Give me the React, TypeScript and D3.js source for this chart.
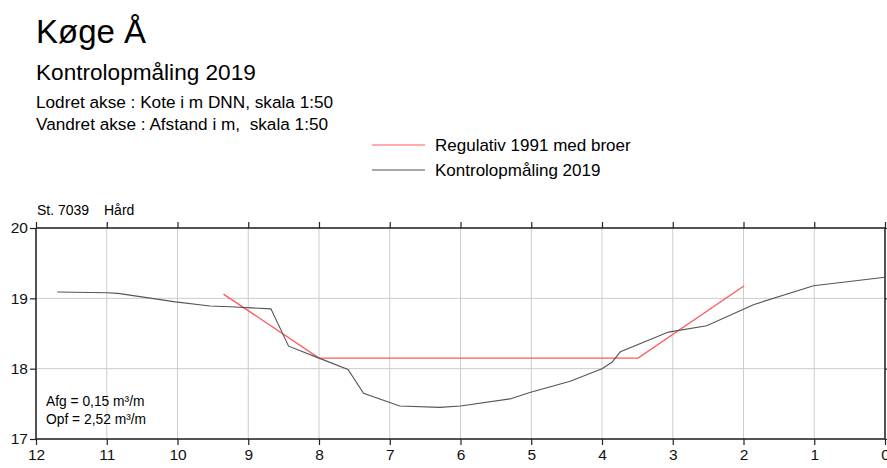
import { useEffect, useRef } from 'react';
import * as d3 from 'd3';

// Kontrolopmåling 2019 (afstand i m, kote i m DNN)
const surveyDist = [11.7, 11.0, 10.84, 10.03, 9.54, 9.26, 8.68, 8.43, 8.0, 7.59, 7.37, 6.86, 6.29, 6.0, 5.3, 5.02, 4.45, 4.0, 3.86, 3.74, 3.06, 2.52, 1.86, 1.01, 0.0];
const surveyKote = [19.09, 19.08, 19.07, 18.95, 18.89, 18.88, 18.85, 18.32, 18.15, 17.99, 17.65, 17.47, 17.45, 17.47, 17.57, 17.66, 17.82, 18.0, 18.09, 18.24, 18.52, 18.61, 18.91, 19.18, 19.3];

// Regulativ 1991 med broer
const regDist = [9.35, 8.0, 3.49, 1.99];
const regKote = [19.06, 18.15, 18.15, 19.18];

const xTicks = [12, 11, 10, 9, 8, 7, 6, 5, 4, 3, 2, 1, 0];
const yTicks = [17, 18, 19, 20];

const title = 'Køge Å';
const subtitle = 'Kontrolopmåling 2019';
const infoLines = ['Lodret akse : Kote i m DNN, skala 1:50', 'Vandret akse : Afstand i m,  skala 1:50'];
const legendItems = [
  { label: 'Regulativ 1991 med broer', color: '#ff5a5a' },
  { label: 'Kontrolopmåling 2019', color: '#555555' },
];
const stationLabel = 'St. 7039';
const bottomLabel = 'Hård';
const volumeLines = ['Afg = 0,15 m³/m', 'Opf = 2,52 m³/m'];

export default function App() {
  const svgRef = useRef<SVGSVGElement>(null);
  const width = 887;
  const height = 468;

  useEffect(() => {
    if (!svgRef.current) return;
    const svg = d3.select(svgRef.current);
    svg.selectAll('*').remove();

    const font = '"Liberation Sans", Arial, Helvetica, sans-serif';
    const left = 36;
    const right = 885;
    const top = 228;
    const bottom = 439;

    const x = d3.scaleLinear().domain([12, 0]).range([left, right]);
    const y = d3.scaleLinear().domain([17, 20]).range([bottom, top]);

    // Header texts
    svg.append('text').attr('x', 36).attr('y', 43).attr('font-family', font).attr('font-size', 33).attr('fill', '#000').text(title);
    svg.append('text').attr('x', 36).attr('y', 80).attr('font-family', font).attr('font-size', 22.6).attr('fill', '#000').text(subtitle);
    infoLines.forEach((t, i) => {
      svg.append('text').attr('x', 36).attr('y', 108 + i * 22).attr('font-family', font).attr('font-size', 17.2).attr('fill', '#000').attr('xml:space', 'preserve').style('white-space', 'pre').text(t);
    });

    // Legend
    legendItems.forEach((d, i) => {
      const ly = 145 + i * 25;
      svg.append('line').attr('x1', 372).attr('x2', 425).attr('y1', ly).attr('y2', ly).attr('stroke', d.color).attr('stroke-width', 1.2);
      svg.append('text').attr('x', 435).attr('y', ly + 6).attr('font-family', font).attr('font-size', 17).attr('fill', '#000').text(d.label);
    });

    svg.append('text').attr('x', 37).attr('y', 215).attr('font-family', font).attr('font-size', 14).attr('fill', '#000').text(stationLabel);
    svg.append('text').attr('x', 104).attr('y', 215).attr('font-family', font).attr('font-size', 14).attr('fill', '#000').text(bottomLabel);

    // Grid
    const grid = svg.append('g').attr('stroke', '#cccccc').attr('stroke-width', 1);
    xTicks.forEach(t => {
      grid.append('line').attr('x1', x(t)).attr('x2', x(t)).attr('y1', top).attr('y2', bottom);
    });
    yTicks.forEach(t => {
      grid.append('line').attr('x1', left).attr('x2', right).attr('y1', y(t)).attr('y2', y(t));
    });

    // Axes
    const axisColor = '#222';
    const bottomAxis = svg.append('g').attr('transform', `translate(0,${bottom})`)
      .call(d3.axisBottom(x).tickValues(xTicks).tickSize(6).tickPadding(4).tickFormat(d3.format('d')));
    const topAxis = svg.append('g').attr('transform', `translate(0,${top})`)
      .call(d3.axisTop(x).tickValues(xTicks).tickSize(6).tickFormat(() => ''));
    const leftAxis = svg.append('g').attr('transform', `translate(${left},0)`)
      .call(d3.axisLeft(y).tickValues(yTicks).tickSize(6).tickPadding(2).tickFormat(d3.format('d')));
    const rightAxis = svg.append('g').attr('transform', `translate(${right},0)`)
      .call(d3.axisRight(y).tickValues(yTicks).tickSize(6).tickFormat(() => ''));

    [bottomAxis, topAxis, leftAxis, rightAxis].forEach(a => {
      a.select('.domain').attr('stroke', axisColor).attr('stroke-width', 1.5);
      a.selectAll('.tick line').attr('stroke', axisColor).attr('stroke-width', 1.2);
      a.selectAll('text').attr('font-family', font).attr('font-size', 15.5).attr('fill', '#111');
    });
    // Clean domain ends (no outer tick hooks)
    bottomAxis.select('.domain').attr('d', `M${left},0H${right}`);
    topAxis.select('.domain').attr('d', `M${left},0H${right}`);
    leftAxis.select('.domain').attr('d', `M0,${top}V${bottom}`);
    rightAxis.select('.domain').attr('d', `M0,${top}V${bottom}`);

    // Lines
    const line = d3.line<[number, number]>().x(d => x(d[0])).y(d => y(d[1]));
    const surveyData = surveyDist.map((d, i) => [d, surveyKote[i]] as [number, number]);
    const regData = regDist.map((d, i) => [d, regKote[i]] as [number, number]);

    svg.append('path').datum(regData).attr('fill', 'none').attr('stroke', legendItems[0].color).attr('stroke-width', 1.3).attr('d', line);
    svg.append('path').datum(surveyData).attr('fill', 'none').attr('stroke', legendItems[1].color).attr('stroke-width', 1.1).attr('d', line);

    // Volume notes
    volumeLines.forEach((t, i) => {
      svg.append('text').attr('x', 46).attr('y', 406 + i * 18).attr('font-family', font).attr('font-size', 13.8).attr('fill', '#000').text(t);
    });
  }, []);

  return (
    <svg
      ref={svgRef}
      width={width}
      height={height}
      style={{ position: 'absolute', left: 0, top: 0, background: '#fff' }}
    />
  );
}
